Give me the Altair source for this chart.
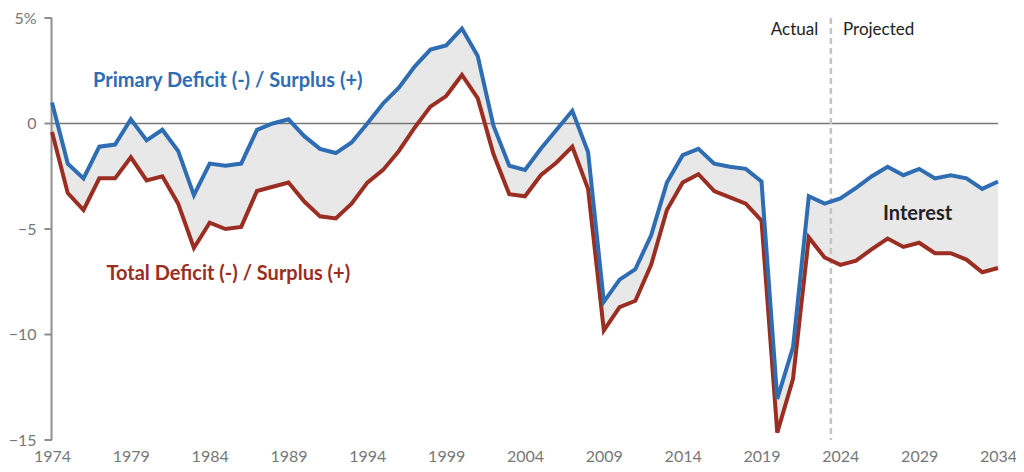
import altair as alt
import pandas as pd

years = list(range(1974, 2035))
primary = [1.0, -1.9, -2.6, -1.1, -1.0, 0.2, -0.8, -0.3, -1.3, -3.4,
           -1.9, -2.0, -1.9, -0.3, 0.0, 0.2, -0.6, -1.2, -1.4, -0.9,
           0.0, 0.95, 1.7, 2.7, 3.5, 3.7, 4.5, 3.2, -0.1, -2.0,
           -2.2, -1.2, -0.3, 0.6, -1.35, -8.45, -7.4, -6.9, -5.3, -2.8,
           -1.5, -1.2, -1.9, -2.05, -2.15, -2.75, -13.05, -10.6, -3.45, -3.8,
           -3.55, -3.05, -2.5, -2.05, -2.45, -2.15, -2.6, -2.45, -2.6, -3.1,
           -2.75]
total = [-0.4, -3.3, -4.1, -2.6, -2.6, -1.6, -2.7, -2.5, -3.8, -5.9,
         -4.7, -5.0, -4.9, -3.2, -3.0, -2.8, -3.7, -4.4, -4.5, -3.8,
         -2.8, -2.2, -1.3, -0.2, 0.8, 1.3, 2.3, 1.2, -1.45, -3.35,
         -3.45, -2.45, -1.85, -1.1, -3.1, -9.8, -8.7, -8.4, -6.7, -4.1,
         -2.8, -2.4, -3.2, -3.5, -3.8, -4.6, -14.65, -12.1, -5.4, -6.35,
         -6.7, -6.5, -5.95, -5.45, -5.85, -5.65, -6.15, -6.15, -6.45, -7.05,
         -6.85]
x_ticks = [1974, 1979, 1984, 1989, 1994, 1999, 2004, 2009, 2014, 2019, 2024, 2029, 2034]
y_ticks = [-15, -10, -5, 0, 5]
split_year = 2023.4

label_text = ["Primary Deficit (-) / Surplus (+)", "Total Deficit (-) / Surplus (+)", "Interest", "Actual", "Projected"]
label_x = [1976.6, 1977.45, 2028.9, 2022.6, 2024.17]
label_y = [1.74, -7.43, -4.58, 4.2, 4.2]
label_color = ["#2f6db3", "#9a2e22", "#222222", "#222222", "#222222"]
label_weight = ["bold", "bold", "bold", "normal", "normal"]
label_size = [20, 20, 20, 17, 17]
label_align = ["left", "left", "center", "right", "left"]

df = pd.DataFrame({"year": years, "primary": primary, "total": total})

FONT = "Lato"
AXIS_GRAY = "#8f8f8f"
xscale = alt.Scale(domain=[1974, 2034], nice=False, zero=False)
yscale = alt.Scale(domain=[-15, 5], nice=False)

x_axis = alt.Axis(values=x_ticks, format="d", title=None, domain=False, ticks=False,
                  grid=False, labelFont=FONT, labelFontSize=16, labelColor="#777777",
                  labelPadding=8, labelFlush=False)
y_axis = alt.Axis(values=y_ticks, title=None, grid=False, domain=False, ticks=False,
                  labelFont=FONT, labelFontSize=16, labelColor="#777777", labelPadding=16,
                  labelExpr="datum.value == 5 ? '5%' : replace(format(datum.value, 'd'), '-', '\u2212')")


def X(field):
    return alt.X(field, scale=xscale, axis=x_axis)


def Y(field):
    return alt.Y(field, scale=yscale, axis=y_axis)


base = alt.Chart(df)

area = base.mark_area(color="#e8e8e8", opacity=1).encode(
    x=X("year:Q"), y=Y("total:Q"), y2="primary:Q",
)

# y-axis line and its tick marks (drawn as rules in data units)
ydom_df = pd.DataFrame({"xa": [1973.97], "lo": [y_ticks[0]], "hi": [y_ticks[-1]]})
ydomain = alt.Chart(ydom_df).mark_rule(color=AXIS_GRAY, strokeWidth=2).encode(
    x=X("xa:Q"), y=Y("lo:Q"), y2="hi:Q"
)
yticks_df = pd.DataFrame({"t": y_ticks, "x0": [1973.52] * len(y_ticks), "x1": [1974.0] * len(y_ticks)})
yticks = alt.Chart(yticks_df).mark_rule(color=AXIS_GRAY, strokeWidth=2).encode(
    x=X("x0:Q"), x2="x1:Q", y=Y("t:Q")
)

zero = alt.Chart(pd.DataFrame({"v": [0]})).mark_rule(color="#777777", strokeWidth=1.5).encode(
    y=Y("v:Q")
)

split = alt.Chart(pd.DataFrame({"x": [split_year]})).mark_rule(
    color="#c4c4c4", strokeWidth=2.5, strokeDash=[6, 4]
).encode(x=X("x:Q"))

red_line = base.mark_line(color="#9a2e22", strokeWidth=4).encode(
    x=X("year:Q"), y=Y("total:Q")
)
blue_line = base.mark_line(color="#2f6db3", strokeWidth=4).encode(
    x=X("year:Q"), y=Y("primary:Q")
)

labels_df = pd.DataFrame({"text": label_text, "x": label_x, "y": label_y})

text_layers = []
for i in range(len(label_text)):
    sub = labels_df.iloc[[i]]
    text_layers.append(
        alt.Chart(sub).mark_text(
            font=FONT, fontSize=int(label_size[i]), fontWeight=label_weight[i],
            color=label_color[i], align=label_align[i], baseline="alphabetic"
        ).encode(x=X("x:Q"), y=Y("y:Q"), text="text:N")
    )

chart = alt.layer(area, ydomain, yticks, zero, split, red_line, blue_line, *text_layers).properties(
    width=946, height=422,
    padding={"left": 44, "top": 10, "right": 18, "bottom": 24},
    autosize=alt.AutoSizeParams(type="none"),
).configure_view(stroke=None)

chart.save("out.html", embed_options={"renderer": "svg", "actions": False})
